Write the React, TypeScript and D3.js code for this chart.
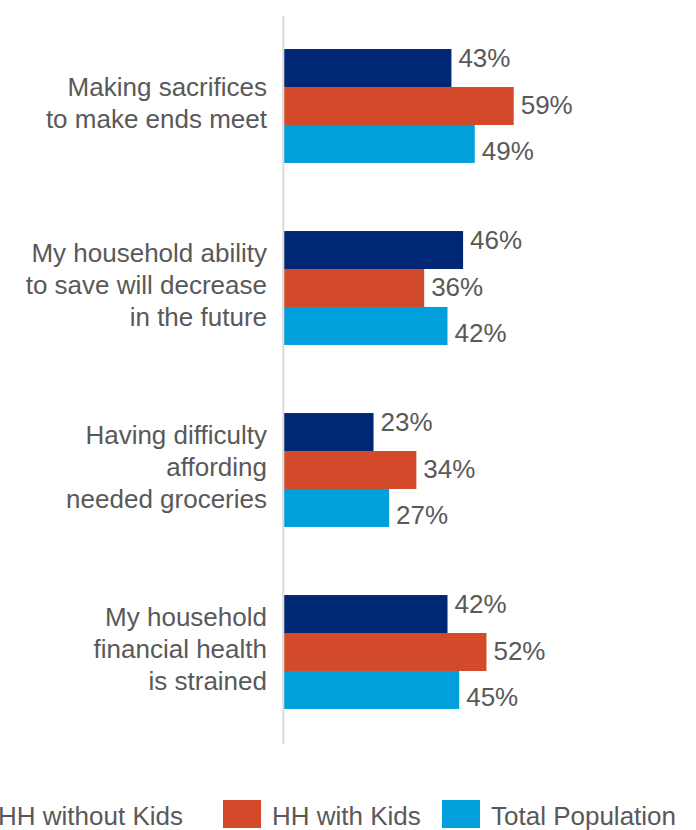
import React, { useEffect, useRef } from "react";
import * as d3 from "d3";

const categories: string[][] = [
  ["Making sacrifices", "to make ends meet"],
  ["My household ability", "to save will decrease", "in the future"],
  ["Having difficulty", "affording", "needed groceries"],
  ["My household", "financial health", "is strained"],
];
const seriesNames = ["HH without Kids", "HH with Kids", "Total Population"];
const hhWithoutKids = [43, 46, 23, 42];
const hhWithKids = [59, 36, 34, 52];
const totalPopulation = [49, 42, 27, 45];
const seriesValues = [hhWithoutKids, hhWithKids, totalPopulation];
const colors = ["#002776", "#D24A2A", "#00A0DC"];

const W = 696;
const H = 830;
const FONT = "'Liberation Sans', Arial, Helvetica, sans-serif";
const TEXT = "#595959";

export default function App() {
  const ref = useRef<SVGSVGElement>(null);

  useEffect(() => {
    const svg = d3.select(ref.current);
    svg.selectAll("*").remove();

    const x0 = 284;
    const x = d3.scaleLinear().domain([0, 59]).range([x0, 513.7]);
    const catIdx = categories.map((_, i) => String(i));
    const y = d3
      .scaleBand<string>()
      .domain(catIdx)
      .range([15, 743])
      .paddingInner(0.374)
      .paddingOuter(0.187);
    const ySub = d3
      .scaleBand<string>()
      .domain(seriesNames)
      .range([0, y.bandwidth()]);

    const labelOffsets = [-1, 8, 16];

    const g = svg.append("g");
    categories.forEach((lines, ci) => {
      const gy = y(String(ci))!;
      seriesNames.forEach((s, si) => {
        const v = seriesValues[si][ci];
        const by = gy + ySub(s)!;
        g.append("rect")
          .attr("x", x(0))
          .attr("y", by)
          .attr("width", x(v) - x(0))
          .attr("height", ySub.bandwidth())
          .attr("fill", colors[si]);
        g.append("text")
          .attr("x", x(v) + 7)
          .attr("y", by + ySub.bandwidth() / 2 + labelOffsets[si])
          .attr("font-family", FONT)
          .attr("font-size", 26)
          .attr("fill", TEXT)
          .text(`${v}%`);
      });
      const cy = gy + y.bandwidth() / 2;
      lines.forEach((ln, li) => {
        g.append("text")
          .attr("x", 267)
          .attr("y", cy + 6 + (li - (lines.length - 1) / 2) * 31.7)
          .attr("text-anchor", "end")
          .attr("font-family", FONT)
          .attr("font-size", 26)
          .attr("fill", TEXT)
          .text(ln);
      });
    });

    svg
      .append("line")
      .attr("x1", 283.3)
      .attr("x2", 283.3)
      .attr("y1", 15.5)
      .attr("y2", 744)
      .attr("stroke", "#D9D9D9")
      .attr("stroke-width", 2);

    // legend: text right edges / square positions follow the reference layout
    const lg = svg.append("g");
    const squareX = [-51, 223, 442];
    seriesNames.forEach((s, si) => {
      lg.append("rect")
        .attr("x", squareX[si])
        .attr("y", 800)
        .attr("width", 38)
        .attr("height", 28)
        .attr("fill", colors[si]);
      if (si === 0) {
        lg.append("text")
          .attr("x", 183)
          .attr("y", 825)
          .attr("text-anchor", "end")
          .attr("font-family", FONT)
          .attr("font-size", 26)
          .attr("fill", TEXT)
          .text(s);
      } else {
        lg.append("text")
          .attr("x", squareX[si] + 49)
          .attr("y", 825)
          .attr("font-family", FONT)
          .attr("font-size", 26)
          .attr("fill", TEXT)
          .text(s);
      }
    });
  }, []);

  return (
    <svg
      ref={ref}
      width={W}
      height={H}
      style={{ position: "absolute", left: 0, top: 0, background: "#fff" }}
    />
  );
}
